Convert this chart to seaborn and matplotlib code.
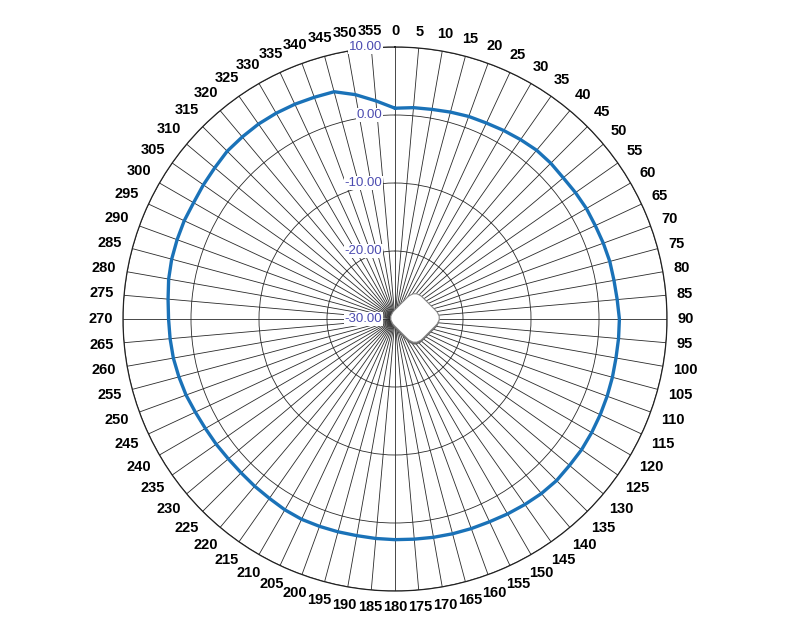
import numpy as np
import pandas as pd
import matplotlib
matplotlib.use("Agg")
import matplotlib.pyplot as plt
import seaborn as sns
from matplotlib.patches import FancyBboxPatch
from matplotlib.transforms import Affine2D

# ---- data ----
angles_deg = list(range(0, 360, 5))
gain_db = [1.0, 1.2, 1.3, 1.5, 1.7, 1.8, 2.0, 2.2, 2.4, 2.4, 2.3, 2.4,
           2.5, 2.5, 2.6, 2.7, 2.7, 2.8, 3.0, 3.0, 3.0, 3.1, 3.2, 3.3,
           3.4, 3.5, 3.5, 3.6, 3.5, 3.3, 3.1, 2.9, 2.8, 2.7, 2.6, 2.5,
           2.45, 2.4, 2.35, 2.4, 2.45, 2.5, 2.4, 2.2, 2.1, 2.0, 2.0, 2.1,
           2.2, 2.4, 2.7, 2.9, 3.1, 3.2, 3.3, 3.5, 3.8, 4.0, 4.1, 4.2,
           4.2, 4.4, 4.6, 4.9, 4.95, 5.0, 4.95, 4.85, 4.7, 4.6, 3.5, 2.2]
r_ticks = [-30, -20, -10, 0, 10]
r_tick_labels = ["-30.00", "-20.00", "-10.00", "0.00", "10.00"]
theta_tick_labels = [str(a) for a in angles_deg]

sns.set_style("white")
plt.rcParams['font.family'] = ['Liberation Sans', 'DejaVu Sans']

W, H = 799, 622
fig = plt.figure(figsize=(W / 100, H / 100), dpi=100)
cx, cy, R = 395, 319, 272
ax = fig.add_axes([(cx - R) / W, (H - cy - R) / H, 2 * R / W, 2 * R / H],
                  projection='polar')
ax.set_theta_zero_location('N')
ax.set_theta_direction(-1)
ax.set_facecolor('white')

theta = np.deg2rad(angles_deg + [angles_deg[0] + 360])
vals = gain_db + [gain_db[0]]
df = pd.DataFrame({'theta': theta, 'gain': vals})
sns.lineplot(data=df, x='theta', y='gain', sort=False, ax=ax,
             color='#1a72b8', linewidth=2.4, zorder=5)

ax.set_ylim(-30, 10)
ax.set_yticks(r_ticks)
ax.set_yticklabels([])
ax.set_xticks(np.deg2rad(angles_deg))
ax.set_xticklabels([])
ax.grid(True, color='#2a2a2a', linewidth=0.6, linestyle='-')
ax.spines['polar'].set_color('#222222')
ax.spines['polar'].set_linewidth(0.9)
ax.set_xlabel('')
ax.set_ylabel('')

# angle labels placed just outside the rim
gap, char_w, txt_h = 10.5, 8.0, 11.0
for a, lab in zip(angles_deg, theta_tick_labels):
    t = np.deg2rad(a)
    ux, uy = np.sin(t), np.cos(t)
    w = char_w * len(lab)
    d = gap + abs(ux) * w / 2 + abs(uy) * txt_h / 2
    ax.annotate(lab, xy=(t, 10), xytext=(ux * d, uy * d), textcoords='offset pixels',
                ha='center', va='center', fontsize=10.5, fontweight='bold',
                color='black', annotation_clip=False)

for rv, lab in zip(r_ticks, r_tick_labels):
    ax.annotate(lab, xy=(0, rv), xytext=(-13, 0), textcoords='offset pixels',
                ha='right', va='center', fontsize=9.5, color='#4b4bb0',
                bbox=dict(boxstyle='square,pad=0.05', fc='white', ec='none'),
                zorder=6)

# central access-point icon (decoration)
icx, icy = (415 - (cx - R)) / (2 * R), (H - 318 - (H - cy - R)) / (2 * R)
side = 40 / (2 * R)
rot = Affine2D().rotate_deg_around(icx, icy, 45) + ax.transAxes
shadow = FancyBboxPatch((icx - side / 2 - 0.003, icy - side / 2 - 0.003), side, side,
                        boxstyle='round,pad=0,rounding_size=0.02',
                        fc='#666666', ec='none', transform=rot, zorder=7, clip_on=False)
box = FancyBboxPatch((icx - side / 2, icy - side / 2), side, side,
                     boxstyle='round,pad=0,rounding_size=0.02',
                     fc='white', ec='#888888', lw=0.8, transform=rot, zorder=8, clip_on=False)
ax.add_patch(shadow)
ax.add_patch(box)

fig.savefig('out.png', dpi=100)
